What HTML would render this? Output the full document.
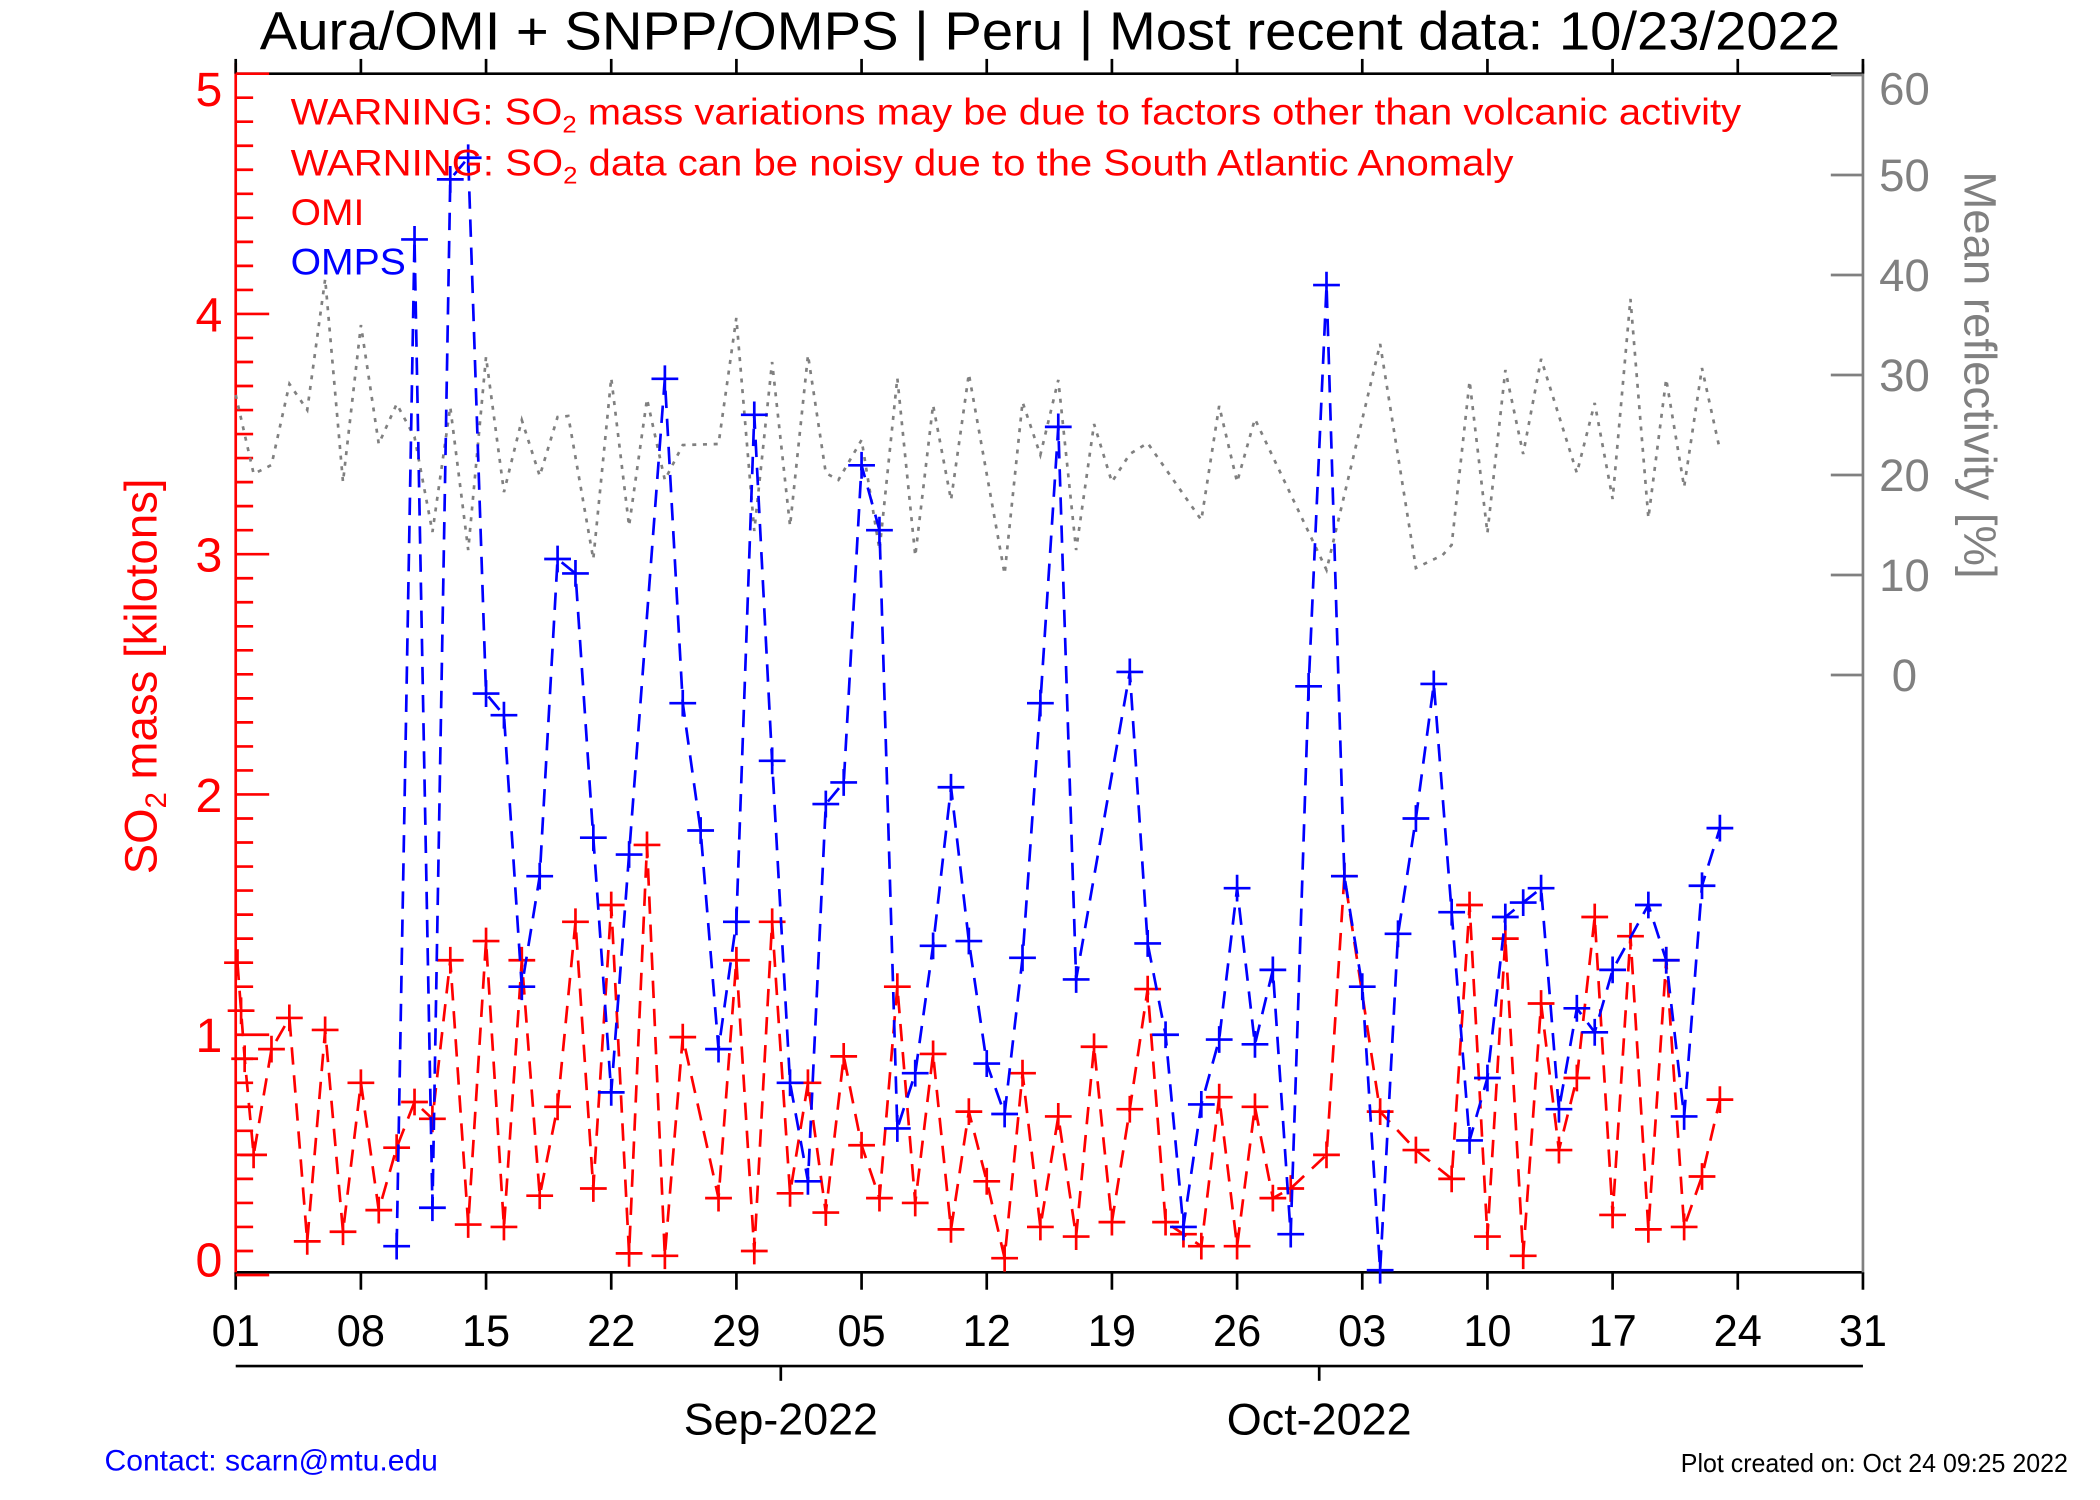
<!DOCTYPE html>
<html><head><meta charset="utf-8"><style>
html,body{margin:0;padding:0;background:#fff;}
svg{display:block;font-family:"Liberation Sans",Arial,sans-serif;}
</style></head><body>
<svg id="chart" width="2100" height="1500" viewBox="0 0 1568 1120" preserveAspectRatio="none" xmlns="http://www.w3.org/2000/svg">
<rect x="0" y="0" width="1568" height="1120" fill="#fff"/>
<text x="784" y="37" font-size="40" text-anchor="middle" textLength="1180" lengthAdjust="spacingAndGlyphs">Aura/OMI + SNPP/OMPS | Peru | Most recent data: 10/23/2022</text>
<g id="axes"></g>
<g id="series"></g>
<g>
<text x="217" y="93" font-size="28" fill="#ff0000" textLength="1083" lengthAdjust="spacingAndGlyphs">WARNING: SO<tspan font-size="18" dy="6">2</tspan><tspan dy="-6"> mass variations may be due to factors other than volcanic activity</tspan></text>
<text x="217" y="131" font-size="28" fill="#ff0000" textLength="913" lengthAdjust="spacingAndGlyphs">WARNING: SO<tspan font-size="18" dy="6">2</tspan><tspan dy="-6"> data can be noisy due to the South Atlantic Anomaly</tspan></text>
<text x="217" y="168" font-size="28" fill="#ff0000" textLength="55" lengthAdjust="spacingAndGlyphs">OMI</text>
<text x="217" y="205" font-size="28" fill="#0000ff" textLength="86" lengthAdjust="spacingAndGlyphs">OMPS</text>
</g>
<text transform="translate(117,505) rotate(-90)" font-size="34" fill="#ff0000" text-anchor="middle">SO<tspan font-size="22" dy="7">2</tspan><tspan dy="-7"> mass [kilotons]</tspan></text>
<text transform="translate(1467,280) rotate(90)" font-size="34" fill="#808080" text-anchor="middle">Mean reflectivity [%]</text>
<text x="583" y="1071" font-size="33" text-anchor="middle" textLength="145" lengthAdjust="spacingAndGlyphs">Sep-2022</text>
<text x="985" y="1071" font-size="33" text-anchor="middle" textLength="138" lengthAdjust="spacingAndGlyphs">Oct-2022</text>
<text x="78" y="1098" font-size="22" fill="#0000ff" textLength="249" lengthAdjust="spacingAndGlyphs">Contact: scarn@mtu.edu</text>
<text x="1544" y="1099" font-size="19" text-anchor="end" textLength="289" lengthAdjust="spacingAndGlyphs">Plot created on: Oct 24 09:25 2022</text>
</svg>
<script>
const xTickLabels = ["01","08","15","22","29","05","12","19","26","03","10","17","24","31"];
const yTickLabels = ["0","1","2","3","4","5"];
const y2TickLabels = ["0","10","20","30","40","50","60"];
const omiDays = [0.1,0.3,0.5,1,2,3,4,5,6,7,8,9,10,11,12,13,14,15,16,17,18,19,20,21,22,23,24,25,27,28,29,30,31,32,33,34,35,36,37,38,39,40,41,42,43,44,45,46,47,48,49,50,51,52,53,54,55,56,57,58,59,61,62,64,66,68,69,70,71,72,73,74,75,76,77,78,79,80,81,82,83];
const omiValues = [1.3,1.1,0.9,0.5,0.94,1.07,0.14,1.02,0.18,0.8,0.27,0.53,0.72,0.65,1.31,0.21,1.39,0.2,1.31,0.33,0.7,1.47,0.36,1.54,0.09,1.79,0.08,0.99,0.32,1.31,0.1,1.47,0.34,0.8,0.26,0.91,0.54,0.32,1.2,0.3,0.92,0.19,0.68,0.39,0.07,0.84,0.2,0.66,0.16,0.95,0.22,0.69,1.19,0.22,0.17,0.12,0.74,0.12,0.7,0.32,0.36,0.5,1.66,0.68,0.52,0.4,1.54,0.16,1.4,0.08,1.13,0.52,0.82,1.49,0.25,1.41,0.19,1.31,0.2,0.41,0.73];
const ompsDays = [9,10,11,12,13,14,15,16,17,18,19,20,21,22,24,25,26,27,28,29,30,31,32,33,34,35,36,37,38,39,40,41,42,43,44,45,46,47,50,51,52,53,54,55,56,57,58,59,60,61,62,63,64,65,66,67,68,69,70,71,72,73,74,75,76,77,79,80,81,82,83];
const ompsValues = [0.12,4.31,0.28,4.56,4.65,2.42,2.33,1.2,1.66,2.98,2.92,1.82,0.76,1.75,3.73,2.38,1.85,0.94,1.47,3.58,2.14,0.8,0.39,1.96,2.05,3.37,3.1,0.61,0.84,1.37,2.03,1.39,0.88,0.67,1.32,2.38,3.53,1.23,2.51,1.38,1.0,0.2,0.71,0.98,1.61,0.96,1.27,0.17,2.45,4.12,1.66,1.2,0.02,1.42,1.9,2.46,1.51,0.56,0.82,1.49,1.55,1.61,0.69,1.11,1.01,1.27,1.54,1.31,0.66,1.62,1.86];
const reflDays = [0,1,2,3,4,5,6,7,8,9,10,11,12,13,14,15,16,17,18,18.6,20,21,22,23,24,25,27,28,29,30,31,32,33,33.7,35,36,37,38,39,40,41,43,44,45,46,47,48,49,50,51,54,55,56,57,61,64,66,67.5,68,69,70,71,72,73,75,76,77,78,79,80,81,82,83];
const reflValues = [28,20.1,21,29.1,26.5,39.6,19.3,35,23.1,27.1,23.8,14.3,26.8,12.5,31.8,18.3,25.5,19.9,25.8,25.9,11.6,29.7,14.9,27.6,19.5,23,23.1,35.7,14.4,31.3,14.9,32,20.2,19.5,23.5,12.5,29.7,11.9,27,17.5,30.1,10.1,27.3,22,29.5,12.5,25.1,19.3,22.1,23.2,15.5,26.9,19.3,25.6,10.5,33.1,10.7,12,13,29.4,14.2,30.5,22.1,31.6,20.2,27.2,17.6,37.6,15.7,29.6,18.8,30.7,22.5];

const NS = "http://www.w3.org/2000/svg";
const L = 176, R = 1391, T = 55, B = 952;
function xS(d){ return L + d * (R - L) / 91; }
function yL(v){ return B - v * (B - T) / 5; }
function yR(r){ return 504 - r * 7.467; }
function mk(tag, attrs, parent){
  const e = document.createElementNS(NS, tag);
  for (const k in attrs) e.setAttribute(k, attrs[k]);
  parent.appendChild(e);
  return e;
}
const axes = document.getElementById('axes');
const series = document.getElementById('series');

let e;
e = mk('line', {x1:L, y1:T, x2:R, y2:T, stroke:'#000', 'stroke-width':2}, axes);


e = mk('line', {x1:L, y1:950, x2:R, y2:950, stroke:'#000', 'stroke-width':2}, axes);


e = mk('line', {x1:R, y1:T-7, x2:R, y2:951, stroke:'#808080', 'stroke-width':2}, axes);


e = mk('line', {x1:L, y1:T-8, x2:L, y2:951, stroke:'#ff0000', 'stroke-width':2}, axes);


e = mk('line', {x1:L, y1:1020, x2:R, y2:1020, stroke:'#000', 'stroke-width':2}, axes);


[583, 985].forEach(function(x){
  const t = mk('line', {x1:x, y1:1020, x2:x, y2:1031, stroke:'#000', 'stroke-width':2}, axes);
  
  
});

xTickLabels.forEach(function(lab, i){
  const x = xS(i * 7);
  const t1 = mk('line', {x1:x, y1:950, x2:x, y2:963, stroke:'#000', 'stroke-width':2}, axes);
  
  
  const t2 = mk('line', {x1:x, y1:T, x2:x, y2:T-11, stroke:'#000', 'stroke-width':2}, axes);
  
  
  const tx = mk('text', {x:x, y:1005, 'font-size':33, 'text-anchor':'middle', textLength:36, lengthAdjust:'spacingAndGlyphs'}, axes);
  tx.textContent = lab;
  
  
});

for (let k = 0; k <= 50; k++){
  const v = k / 10;
  const y = yL(v);
  const major = (k % 10 === 0);
  const t = mk('line', {x1:L, y1:y, x2:L + (major ? 25 : 13), y2:y, stroke:'#ff0000', 'stroke-width':2}, axes);
  
  
}
yTickLabels.forEach(function(lab, i){
  let y = yL(i) + 13;
  if (i === 0) y = 953;
  if (i === 5) y = 79;
  const tx = mk('text', {x:156, y:y, 'font-size':36, fill:'#ff0000', 'text-anchor':'middle'}, axes);
  tx.textContent = lab;
  
  
});

y2TickLabels.forEach(function(lab, i){
  const r = i * 10;
  const y = yR(r);
  const t = mk('line', {x1:R, y1:y, x2:R - 24, y2:y, stroke:'#808080', 'stroke-width':2}, axes);
  
  
  const ly = (i === 6) ? 78 : y + 12;
  const tx = mk('text', {x:1422, y:ly, 'font-size':34, fill:'#808080', 'text-anchor':'middle'}, axes);
  tx.textContent = lab;
  
  
});

let pts = reflDays.map(function(d, i){ return xS(d).toFixed(1) + ',' + yR(reflValues[i]).toFixed(1); }).join(' ');
e = mk('polyline', {points:pts, fill:'none', stroke:'#808080', 'stroke-width':2, 'stroke-dasharray':'3,5'}, series);



function drawSeries(days, vals, color, name){
  const g = mk('g', {}, series);
  
  
  const p = days.map(function(d, i){ return xS(d).toFixed(1) + ',' + yL(vals[i]).toFixed(1); }).join(' ');
  const ln = mk('polyline', {points:p, fill:'none', stroke:color, 'stroke-width':2, 'stroke-dasharray':'13,8'}, g);
  
  
  days.forEach(function(d, i){
    const x = xS(d), y = yL(vals[i]);
    const c = mk('path', {d:'M' + (x - 10) + ' ' + y + 'H' + (x + 10) + 'M' + x + ' ' + (y - 10) + 'V' + (y + 10), stroke:color, 'stroke-width':2, fill:'none'}, g);
    
    
  });
}
drawSeries(omiDays, omiValues, '#ff0000', 'omi');
drawSeries(ompsDays, ompsValues, '#0000ff', 'omps');
</script>
</body></html>
